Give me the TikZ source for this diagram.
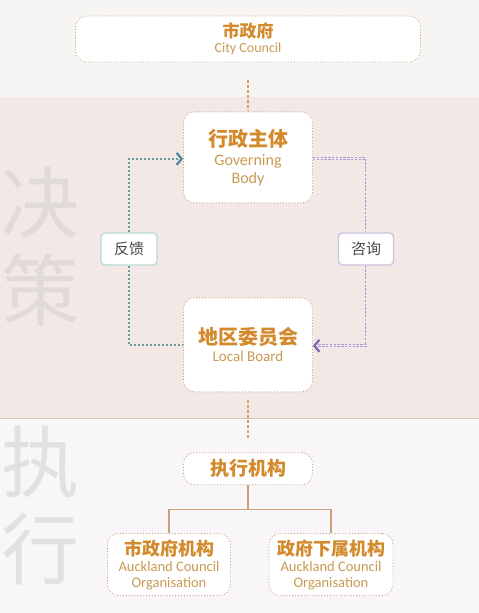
\documentclass[tikz,border=0pt]{standalone}
\usepackage{fontspec}
\setmainfont{Carlito}
\newfontfamily\cjk{Noto Sans CJK SC}
\usetikzlibrary{positioning, arrows.meta}
\usepackage{xcolor}

\definecolor{bgtop}{HTML}{F7F5F3}
\definecolor{bgmid}{HTML}{F2E9E6}
\definecolor{bgbot}{HTML}{F8F6F8}
\definecolor{sepline}{HTML}{D9C7BB}
\definecolor{boxline}{HTML}{C9A27A}
\definecolor{headc}{HTML}{D38A2C}
\definecolor{engc}{HTML}{C89A52}
\definecolor{linkc}{HTML}{D6A25A}
\definecolor{fbline}{HTML}{6A9A99}
\definecolor{fbtip}{HTML}{4F86A0}
\definecolor{fbbox}{HTML}{B9D9D5}
\definecolor{csline}{HTML}{A89BD2}
\definecolor{cstip}{HTML}{7A68B4}
\definecolor{csbox}{HTML}{CBC3DE}
\definecolor{wmark}{HTML}{E0DADA}
\definecolor{wmarkb}{HTML}{E2E0E3}

\newcommand{\zhhead}[2]{{\cjk\bfseries\color{headc}\fontsize{#1}{#1}\selectfont #2}}

\begin{document}
\begin{tikzpicture}[x=1pt,y=1pt,node distance=49pt,semithick,
    box/.style={draw=boxline,dotted,line width=0.9pt,fill=white,rounded corners=11pt,
                align=center,minimum width=129pt,text=engc,font=\fontsize{16}{18}\selectfont},
    tag/.style={fill=white,rounded corners=4pt,line width=1.3pt,minimum width=56pt,
                minimum height=32pt,text=black!70,font=\cjk\fontsize{15}{15}\selectfont},
    link/.style={linkc,line width=2.6pt,dash pattern=on 2.6pt off 2.4pt},
    fbpath/.style={fbline,line width=2.2pt,dash pattern=on 2.2pt off 1.8pt},
    cspath/.style={csline,line width=0.9pt,double=bgmid,double distance=0.9pt,dash pattern=on 2.4pt off 1.4pt},
    tree/.style={boxline,line width=1.3pt}]

  % backgrounds
  \fill[bgtop] (0,0) rectangle (478,-97);
  \fill[bgmid] (0,-97) rectangle (478,-418);
  \fill[bgbot] (0,-418) rectangle (478,-613);
  \draw[sepline,line width=1pt] (0,-418) -- (478,-418);
  \useasboundingbox (0,0) rectangle (478,-613);

  % watermarks
  \node[text=wmark,font=\cjk\fontsize{78}{87}\selectfont,align=center] (jc) at (40,-246) {决\\策};
  \node[text=wmarkb,font=\cjk\fontsize{78}{87}\selectfont,align=center] (zx) at (40,-505) {执\\行};

  % boxes
  \node[box,minimum width=345pt,minimum height=46pt,font=\fontsize{14}{15}\selectfont] (city) at (247.5,-39)
       {\zhhead{17}{市政府}\\City Council};
  \node[box,minimum height=91pt] (gov) [below=of city]
       {\zhhead{20}{行政主体}\\[1pt]Governing\\Body};
  \node[box,minimum height=94pt,font=\fontsize{15}{17}\selectfont] (local) [below=94pt of gov]
       {\zhhead{20}{地区委员会}\\Local Board};
  \node[box,minimum height=32pt] (exec) [below=60pt of local] {\zhhead{19}{执行机构}};
  \node[box,minimum width=123pt,minimum height=62pt,font=\fontsize{14.5}{16}\selectfont] (aco)
       [below=48pt of exec,xshift=-79pt] {\zhhead{18}{市政府机构}\\Auckland Council\\Organisation};
  \node[box,minimum width=124pt,minimum height=62pt,font=\fontsize{14.5}{16}\selectfont] (sub)
       [below=48pt of exec,xshift=83pt] {\zhhead{18}{政府下属机构}\\Auckland Council\\Organisation};

  \node[tag,draw=fbbox] (fb) at (128.5,-249) {反馈};
  \node[tag,draw=csbox,minimum width=55pt] (cs) at (365.5,-249) {咨询};

  % links
  \draw[link,shorten <=18pt] (city) -- (gov);
  \draw[link,shorten <=8pt,shorten >=13pt] (local) -- (exec);
  \draw[tree] (exec.south) -- ++(0,-24) -| (aco.north);
  \draw[tree] (exec.south) -- ++(0,-24) -| (sub.north);

  \draw[fbpath,-{Straight Barb[length=5pt,width=12pt,line width=2.2pt,color=fbtip]}]
       (fb.north) |- ([yshift=-1.5pt]gov.west);
  \draw[fbpath] (fb.south) |- (local.west);
  \draw[cspath] ([yshift=-1pt]gov.east) -| (cs.north);
  \draw[cspath,-{Straight Barb[length=5pt,width=12pt,line width=2.2pt,color=cstip]}]
       (cs.south) |- ([yshift=-1pt]local.east);
\end{tikzpicture}
\end{document}
